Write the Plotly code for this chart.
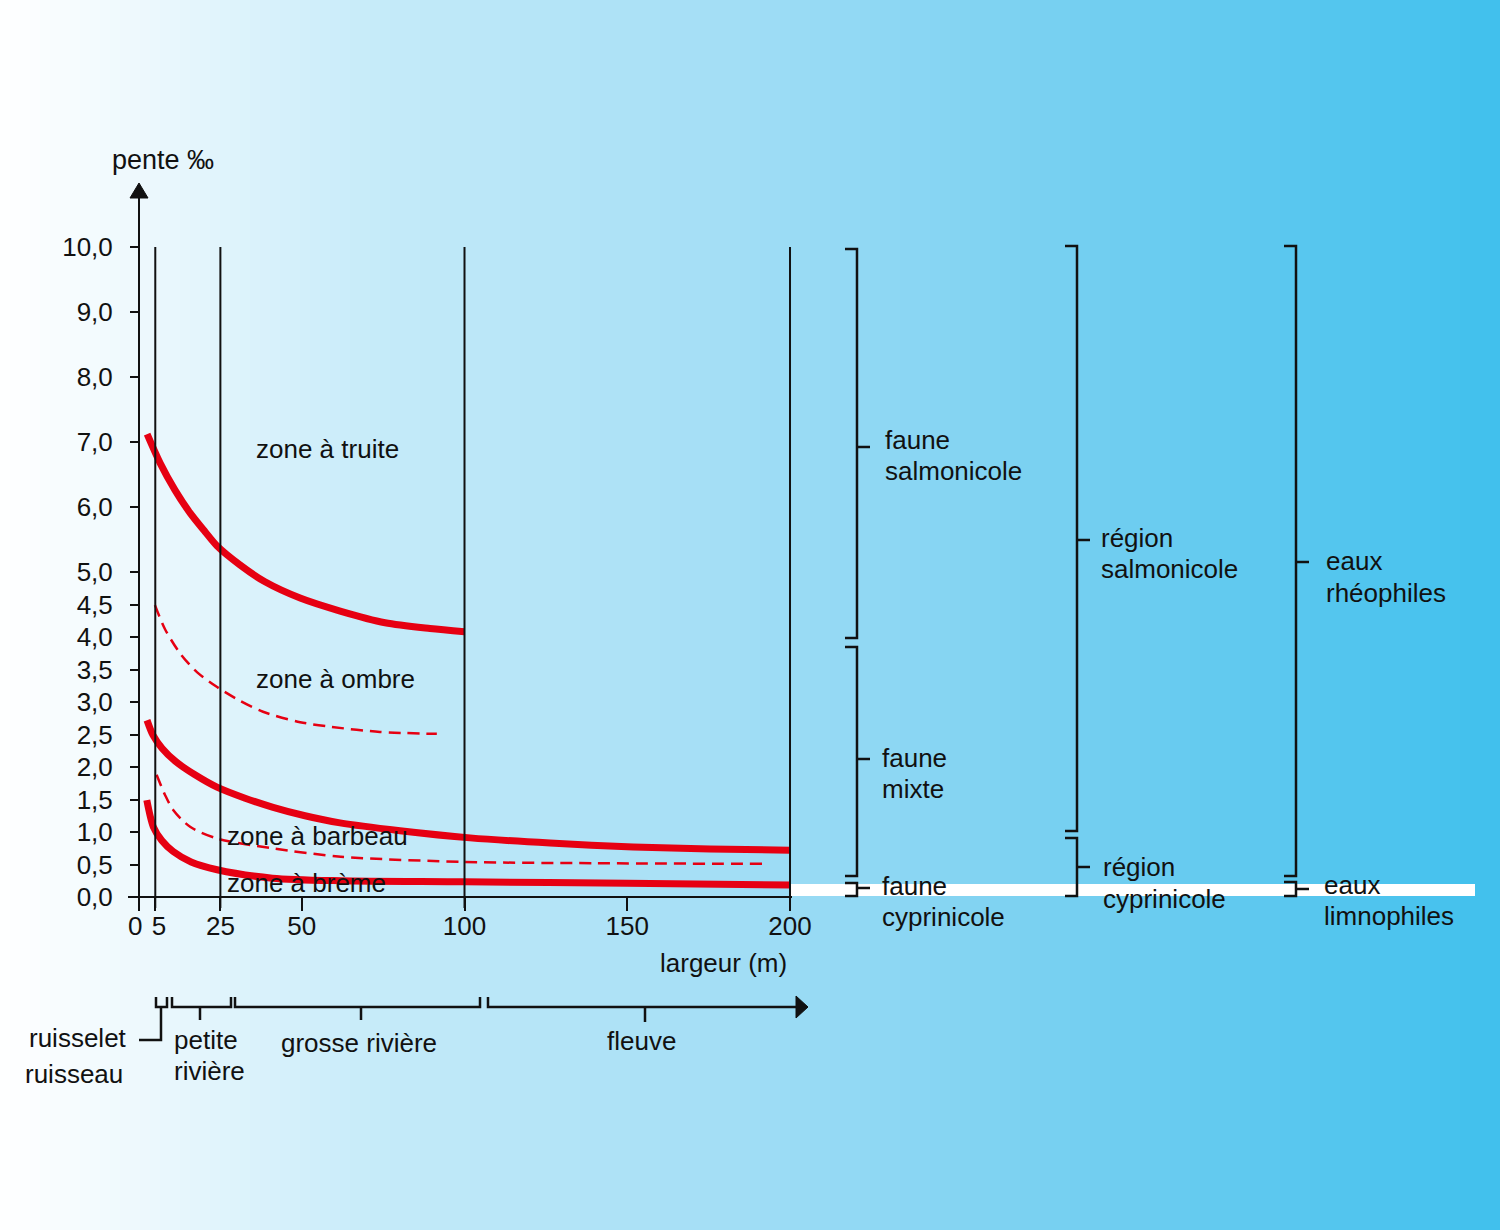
import plotly.graph_objects as go

# ---------------- data ----------------
Y_TICKS = [0, 0.5, 1, 1.5, 2, 2.5, 3, 3.5, 4, 4.5, 5, 6, 7, 8, 9, 10]
Y_TICKTEXT = ["0,0", "0,5", "1,0", "1,5", "2,0", "2,5", "3,0", "3,5", "4,0", "4,5",
              "5,0", "6,0", "7,0", "8,0", "9,0", "10,0"]
X_TICKS = [0, 5, 25, 50, 100, 150, 200]
X_TICKTEXT = ["", "\u00a05", "25", "50", "100", "150", "200"]
X_ZERO_LABEL = "0"
V_LINES = [5, 25, 100, 200]

truite_x = [2.5, 6.45, 11.06, 15.67, 20.3, 24, 31, 38.7, 49.5, 61.8, 75.6, 89.4, 100]
truite_y = [7.12, 6.68, 6.26, 5.91, 5.62, 5.4, 5.11, 4.85, 4.6, 4.4, 4.22, 4.13, 4.08]

ombre_x = [4.9, 8, 12.6, 17.8, 24, 31, 38.1, 49.5, 58.7, 74, 91.5]
ombre_y = [4.49, 4.12, 3.75, 3.46, 3.23, 3.02, 2.85, 2.69, 2.62, 2.54, 2.51]

barbeau_x = [2.46, 4.3, 7.07, 11.37, 17.2, 23.96, 32.6, 41.2, 51.0, 61.75, 80.2, 101.7,
             126.3, 151.8, 175.4, 200]
barbeau_y = [2.72, 2.49, 2.29, 2.08, 1.88, 1.69, 1.52, 1.38, 1.25, 1.14, 1.02, 0.91,
             0.83, 0.77, 0.74, 0.72]

barb_breme_x = [5.4, 8, 10.5, 15.7, 24, 41, 62, 100, 140, 193]
barb_breme_y = [1.88, 1.57, 1.34, 1.08, 0.9, 0.75, 0.62, 0.54, 0.52, 0.51]

breme_x = [2.4, 4.4, 7, 10.5, 16, 24, 41, 62, 100, 150, 200]
breme_y = [1.49, 1.08, 0.87, 0.70, 0.54, 0.42, 0.29, 0.25, 0.235, 0.21, 0.185]

ZONES = [("zone à truite", 58, 6.9), ("zone à ombre", 60.5, 3.35),
         ("zone à barbeau", 54.7, 0.94), ("zone à brème", 51.6, 0.215)]

# ---------------- helpers (pixel -> paper) ----------------
W, H = 1500, 1230
def px(x):
    return x / W
def py(y):
    return 1 - y / H

FONT = "Liberation Sans, Arial, sans-serif"
RED = "#e60012"
BLACK = "#111111"

fig = go.Figure()

def curve(xs, ys, dashed=False):
    fig.add_trace(go.Scatter(
        x=xs, y=ys, mode="lines",
        line=dict(color=RED, width=2.5 if dashed else 7, shape="spline", smoothing=0.8,
                  dash="12px,7px" if dashed else "solid"),
        hoverinfo="skip", showlegend=False))

curve(ombre_x, ombre_y, dashed=True)
curve(barb_breme_x, barb_breme_y, dashed=True)
curve(truite_x, truite_y)
curve(barbeau_x, barbeau_y)
curve(breme_x, breme_y)

shapes = []

# background gradient (horizontal)
stops = [(0.0, (255, 255, 255)), (0.1, (236, 248, 253)), (0.25, (198, 235, 249)),
         (0.5, (160, 221, 245)), (0.75, (110, 205, 240)), (1.0, (64, 192, 237))]
def grad(t):
    for (t0, c0), (t1, c1) in zip(stops[:-1], stops[1:]):
        if t <= t1:
            f = (t - t0) / (t1 - t0) if t1 > t0 else 0
            return tuple(round(a + (b - a) * f) for a, b in zip(c0, c1))
    return stops[-1][1]

N = 150
for i in range(N):
    t = (i + 0.5) / N
    r, g, b = grad(t)
    shapes.append(dict(type="rect", xref="paper", yref="paper",
                       x0=i / N, x1=(i + 1) / N + 0.001, y0=0, y1=1,
                       fillcolor=f"rgb({r},{g},{b})", line=dict(width=0), layer="below"))

# white band at the 0-level on the right
shapes.append(dict(type="rect", xref="paper", yref="paper",
                   x0=px(790), x1=px(1475), y0=py(896), y1=py(884),
                   fillcolor="white", line=dict(width=0), layer="below"))

# vertical lines in plot
for v in V_LINES:
    shapes.append(dict(type="line", xref="x", yref="y", x0=v, x1=v, y0=-0.169, y1=10,
                       line=dict(color=BLACK, width=2)))

def path(pts):
    return "M " + " L ".join(f"{px(a):.5f},{py(b):.5f}" for a, b in pts)

def add_path(pts, width=2.5, fill=None, close=False):
    p = path(pts) + (" Z" if close else "")
    d = dict(type="path", xref="paper", yref="paper", path=p,
             line=dict(color=BLACK, width=width))
    if fill:
        d["fillcolor"] = fill
        d["line"] = dict(color=BLACK, width=1)
    shapes.append(d)

# y-axis arrowhead
add_path([(139, 183), (130, 198), (148, 198)], fill=BLACK, close=True)

# right-hand brackets: (x, ytop, ybot, ymid)
def rbracket(x, yt, yb, ym):
    add_path([(x - 12, yt), (x, yt), (x, yb), (x - 12, yb)])
    add_path([(x, ym), (x + 13, ym)])

rbracket(857, 249, 638, 447)
rbracket(857, 647, 876, 759)
rbracket(857, 883, 896, 888)
rbracket(1077, 246, 831, 540)
rbracket(1077, 838, 896, 867)
rbracket(1296, 246, 876, 562)
rbracket(1296, 882, 896, 889)

# bottom brackets
def bbracket(x1, x2, xm):
    add_path([(x1, 997), (x1, 1007), (x2, 1007), (x2, 997)])
    if xm is not None:
        add_path([(xm, 1007), (xm, 1020)])

bbracket(156, 167, None)
add_path([(139, 1040), (161, 1040), (161, 1007)])
bbracket(172, 231, 200)
bbracket(235, 480, 361)
add_path([(488, 997), (488, 1007), (800, 1007)])
add_path([(645, 1007), (645, 1022)])
add_path([(796, 996), (808, 1007), (796, 1018)], fill=BLACK, close=True)

# ---------------- annotations ----------------
ann = []
def txt(s, x, y, anchor="left", size=26):
    ann.append(dict(text=s, x=px(x), y=py(y), xref="paper", yref="paper",
                    xanchor=anchor, yanchor="middle", showarrow=False,
                    font=dict(family=FONT, size=size, color=BLACK)))

for s, x, y in ZONES:
    ann.append(dict(text=s, x=x, y=y, xref="x", yref="y", xanchor="center",
                    yanchor="middle", showarrow=False,
                    font=dict(family=FONT, size=26, color=BLACK)))

txt("pente ‰", 110, 160, size=27)
txt("largeur (m)", 723, 963, "center")
txt(X_ZERO_LABEL, 135, 926, "center")

txt("faune", 883, 440); txt("salmonicole", 883, 471)
txt("faune", 880, 758); txt("mixte", 880, 789)
txt("faune", 880, 886); txt("cyprinicole", 880, 917)
txt("région", 1099, 538); txt("salmonicole", 1099, 569)
txt("région", 1101, 867); txt("cyprinicole", 1101, 899)
txt("eaux", 1324, 561); txt("rhéophiles", 1324, 593)
txt("eaux", 1322, 885); txt("limnophiles", 1322, 916)

txt("ruisselet", 129, 1038, "right")
txt("ruisseau", 125, 1074, "right")
txt("petite", 172, 1040)
txt("rivière", 172, 1071)
txt("grosse rivière", 359, 1043, "center")
txt("fleuve", 641, 1041, "center")

fig.update_layout(
    width=W, height=H,
    margin=dict(l=0, r=0, t=0, b=0),
    paper_bgcolor="white",
    plot_bgcolor="rgba(0,0,0,0)",
    showlegend=False,
    shapes=shapes,
    annotations=ann,
    xaxis=dict(domain=[px(128), px(792)], range=[-3.38, 200.61], anchor="free",
               position=py(897), showline=True, linecolor=BLACK, linewidth=2,
               tickmode="array", tickvals=X_TICKS, ticktext=X_TICKTEXT, tickangle=0,
               ticks="outside", ticklen=13, tickwidth=2, tickcolor=BLACK,
               ticklabelstandoff=-7,
               showgrid=False, zeroline=False, automargin=False, fixedrange=True,
               tickfont=dict(family=FONT, size=26, color=BLACK)),
    yaxis=dict(domain=[py(908), py(188)], range=[-0.169, 10.908], anchor="free",
               position=px(139), showline=True, linecolor=BLACK, linewidth=2,
               tickmode="array", tickvals=Y_TICKS, ticktext=Y_TICKTEXT,
               ticks="outside", ticklen=8, tickwidth=2, tickcolor=BLACK,
               ticklabelstandoff=12,
               showgrid=False, zeroline=False, automargin=False, fixedrange=True,
               tickfont=dict(family=FONT, size=26, color=BLACK)),
)

fig.write_html("out.html", config={"displayModeBar": False},
               post_script="document.body.style.margin='0';document.body.style.overflow='hidden';")
